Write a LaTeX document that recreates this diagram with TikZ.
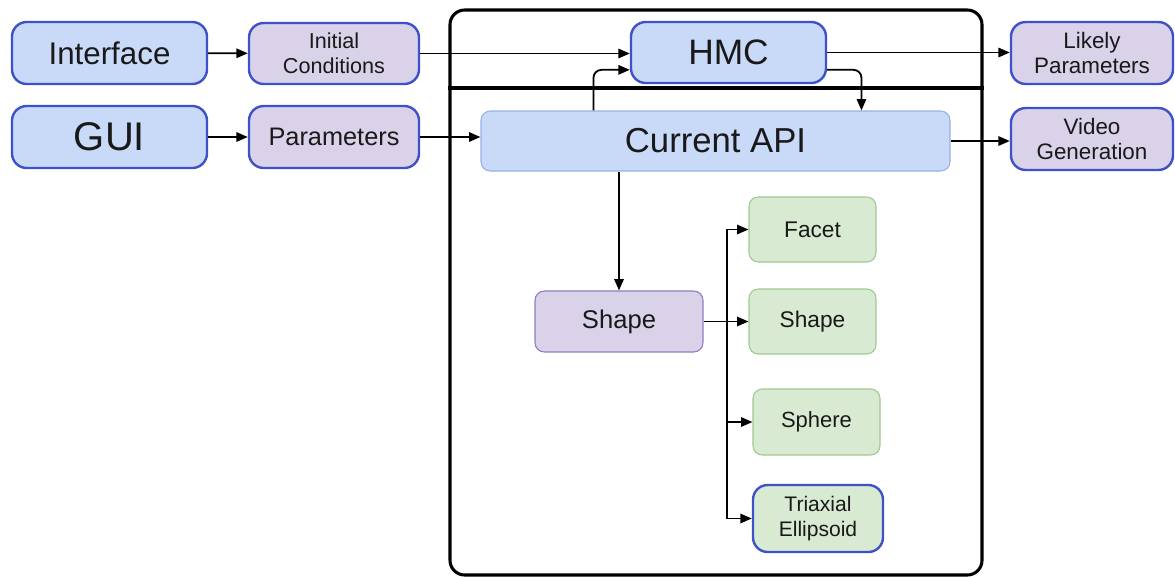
\documentclass[tikz,border=0pt]{standalone}
\usepackage{fontspec}
\setmainfont{Liberation Sans}
\usetikzlibrary{arrows.meta}

\definecolor{bluefill}{RGB}{201,218,248}
\definecolor{blueedge}{RGB}{63,81,200}
\definecolor{apiedge}{RGB}{150,178,228}
\definecolor{lavfill}{RGB}{217,210,233}
\definecolor{lavedge}{RGB}{142,124,195}
\definecolor{greenfill}{RGB}{217,234,211}
\definecolor{greenedge}{RGB}{160,200,145}
\definecolor{inktext}{RGB}{25,25,25}

\newcommand{\fs}[1]{\fontsize{#1}{1.15\dimexpr#1\relax}\selectfont}

\tikzset{
  box/.style={rectangle, inner sep=0pt, align=center, text=inktext},
  strongbox/.style={box, draw=blueedge, line width=1.8pt, rounded corners=11pt},
  softbox/.style={box, line width=0.8pt, rounded corners=7pt},
  bluebox/.style={strongbox, fill=bluefill},
  lavbox/.style={strongbox, fill=lavfill},
  apibox/.style={softbox, draw=apiedge, fill=bluefill},
  shapebox/.style={softbox, draw=lavedge, fill=lavfill},
  leafbox/.style={softbox, draw=greenedge, fill=greenfill},
  container/.style={rectangle, draw=black, line width=2.3pt, rounded corners=11pt, inner sep=0pt},
  arr/.style={-{Triangle[length=8.5pt,width=7pt]}, line width=1.35pt, draw=black}
}

\begin{document}
\begin{tikzpicture}[x=0.75pt,y=-0.75pt]
\useasboundingbox (0,0) rectangle (1175,576);

% outer container and its divider
\node[container, minimum width=532*0.75pt, minimum height=565*0.75pt] (core) at (716,292.5) {};
\draw[line width=2.3pt] (core.west |- 0,88) -- (core.east |- 0,88);

% left-hand inputs
\node[bluebox, minimum width=195*0.75pt, minimum height=62*0.75pt, font=\fs{23.5pt}] (iface) at (109.5,53) {Interface};
\node[bluebox, minimum width=195*0.75pt, minimum height=62*0.75pt, font=\fs{30pt}] (gui) at (109.5,137) {GUI};
\node[lavbox, minimum width=170*0.75pt, minimum height=61*0.75pt, font=\fs{16.2pt}] (initc) at (334,53.5) {Initial\\Conditions};
\node[lavbox, minimum width=170*0.75pt, minimum height=62*0.75pt, font=\fs{19pt}] (params) at (334,137) {Parameters};

% core nodes
\node[bluebox, minimum width=195*0.75pt, minimum height=61*0.75pt, font=\fs{26.5pt}] (hmc) at (728.5,52.5) {HMC};
\node[apibox, minimum width=469*0.75pt, minimum height=60*0.75pt, font=\fs{26pt}] (api) at (715.5,141) {Current API};
\node[shapebox, minimum width=168*0.75pt, minimum height=61*0.75pt, font=\fs{19.2pt}] (shape) at (619,321.5) {Shape};

% shape variants
\node[leafbox, minimum width=127*0.75pt, minimum height=65*0.75pt, font=\fs{17pt}] (facet) at (812.5,229.5) {Facet};
\node[leafbox, minimum width=127*0.75pt, minimum height=65*0.75pt, font=\fs{17pt}] (gshape) at (812.5,321.5) {Shape};
\node[leafbox, minimum width=127*0.75pt, minimum height=66*0.75pt, font=\fs{16.5pt}] (sphere) at (816.5,422) {Sphere};
\node[strongbox, fill=greenfill, minimum width=130*0.75pt, minimum height=67*0.75pt, font=\fs{15.8pt}] (ellip) at (818,518.5) {Triaxial\\Ellipsoid};

% right-hand outputs
\node[lavbox, minimum width=162*0.75pt, minimum height=62*0.75pt, font=\fs{16.8pt}] (likely) at (1092,53) {Likely\\Parameters};
\node[lavbox, minimum width=162*0.75pt, minimum height=62*0.75pt, font=\fs{16.8pt}] (video) at (1092,139) {Video\\Generation};

% connectors
\draw[arr] (iface) -- (initc);
\draw[arr] (gui) -- (params);
\draw[arr] (initc.east) -- (initc.east -| hmc.west);
\draw[arr] (params.east) -- (params.east -| api.west);
\draw[arr, rounded corners=6pt] ([xshift=113*0.75pt]api.north west) |- ([yshift=-13pt]hmc.west);
\draw[arr, rounded corners=6pt] ([yshift=-13pt]hmc.east) -| ([xshift=381*0.75pt]api.north west);
\draw[arr] (hmc.east) -- (hmc.east -| likely.west);
\draw[arr] (api.east) -- (api.east -| video.west);
\draw[arr] (shape.north |- api.south) -- (shape.north);
\draw[arr] (shape.east) -- (shape.east -| gshape.west);

\coordinate (trunk) at (727,300);
\draw[arr] (trunk |- ellip.west) |- (facet.west);
\draw[arr] (trunk |- sphere.west) -- (sphere.west);
\draw[arr] (trunk |- ellip.west) -- (ellip.west);
\end{tikzpicture}
\end{document}
